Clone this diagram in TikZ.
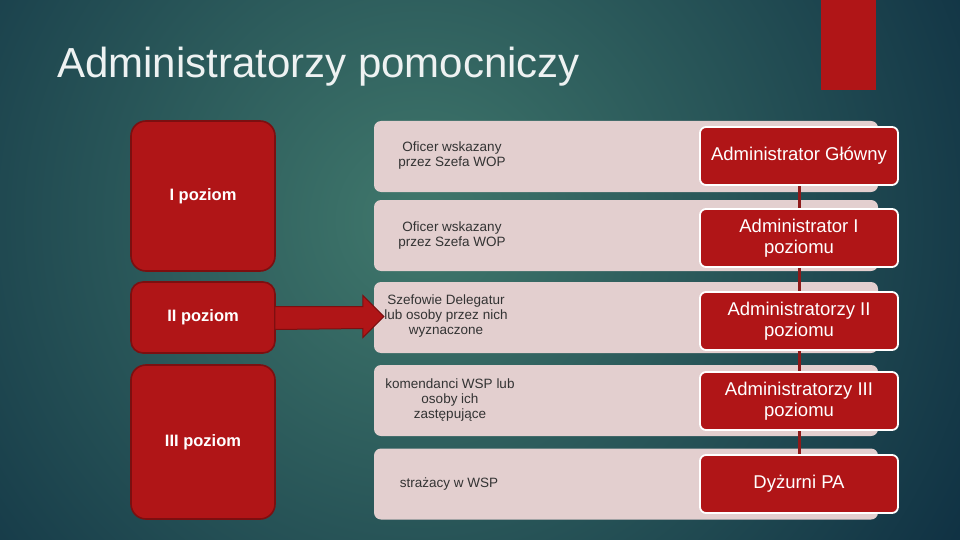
\documentclass[tikz,border=0pt]{standalone}
\usepackage{fontspec}
\setmainfont{Liberation Sans}
\usetikzlibrary{calc}
\definecolor{bgin}{HTML}{40786C}
\definecolor{bgout}{HTML}{0E2F42}
\definecolor{redf}{HTML}{B01517}
\definecolor{redd}{HTML}{7C0F10}
\definecolor{pinkf}{HTML}{E3CFCF}
\definecolor{txtd}{HTML}{333333}
\definecolor{ttl}{HTML}{EEF2F2}
\definecolor{linec}{HTML}{8E1A1A}
\begin{document}
\begin{tikzpicture}[x=1pt,y=-1pt,
 levelbox/.style={draw=redd, line width=1.6pt, fill=redf, rounded corners=15pt, text=white,
   font=\fontsize{16.5}{19}\selectfont\bfseries, minimum width=144pt, inner sep=0pt},
 pinkbox/.style={fill=pinkf, rounded corners=7pt, minimum width=504pt, minimum height=71pt, inner sep=0pt},
 pinktext/.style={text=txtd, font=\fontsize{13.5}{15}\selectfont, align=center, inner sep=0pt},
 adminbox/.style={draw=white, line width=1.8pt, fill=redf, rounded corners=6pt, minimum width=198pt,
   minimum height=58pt, text=white, font=\fontsize{18.5}{20.5}\selectfont, align=center, inner sep=0pt},
]
\useasboundingbox (0,0) rectangle (960,540);
\begin{scope}
\clip (0,0) rectangle (960,540);
\fill[bgout] (0,0) rectangle (960,540);
\shade[inner color=bgin, outer color=bgout] (420,220) circle (650);
\end{scope}
\fill[redf] (821,0) rectangle (876,90);
\node[anchor=west, text=ttl, font=\fontsize{42}{48}\selectfont, inner sep=0pt] (title) at (57,67) {Administratorzy pomocniczy};

% level boxes
\node[levelbox, minimum height=150pt] (l1) at (203,196) {I poziom};
\node[levelbox, minimum height=71pt, rounded corners=12pt] (l2) at (203,317.5) {II poziom};
\node[levelbox, minimum height=154pt] (l3) at (203,442) {III poziom};

% pink rows
\node[pinkbox] (p1) at (626,156.5) {};
\node[pinkbox] (p2) at (626,235.5) {};
\node[pinkbox] (p3) at (626,317.5) {};
\node[pinkbox] (p4) at (626,400.5) {};
\node[pinkbox] (p5) at (626,484) {};

\node[pinktext] (t1) at (452,156) {Oficer wskazany\\przez Szefa WOP};
\node[pinktext] (t2) at (452,236) {Oficer wskazany\\przez Szefa WOP};
\node[pinktext] (t3) at (446,316) {Szefowie Delegatur\\lub osoby przez nich\\wyznaczone};
\node[pinktext] (t4) at (450,400) {komendanci WSP lub\\osoby ich\\zastępujące};
\node[pinktext] (t5) at (449,484) {strażacy w WSP};

% arrow
\coordinate (tip) at ($(p3.west)+(10,-1)$);
\filldraw[fill=redf, draw=redd, line width=1pt]
  ($(l2.east)+(-1,-11)$) -- ($(tip)+(-21,-10)$) -- ($(tip)+(-21,-21)$) -- (tip)
  -- ($(tip)+(-21,21)$) -- ($(tip)+(-21,12)$) -- ($(l2.east)+(-1,12)$) -- cycle;

% admin boxes
\coordinate (a1c) at (799,156);
\coordinate (a5c) at (799,484);
\draw[linec, line width=3pt] (a1c) -- (a5c);
\node[adminbox] (a1) at (a1c) {Administrator Główny};
\node[adminbox] (a2) at (799,238) {Administrator I\\poziomu};
\node[adminbox] (a3) at (799,321) {Administratorzy II\\poziomu};
\node[adminbox] (a4) at (799,401) {Administratorzy III\\poziomu};
\node[adminbox] (a5) at (a5c) {Dyżurni PA};
\end{tikzpicture}
\end{document}
